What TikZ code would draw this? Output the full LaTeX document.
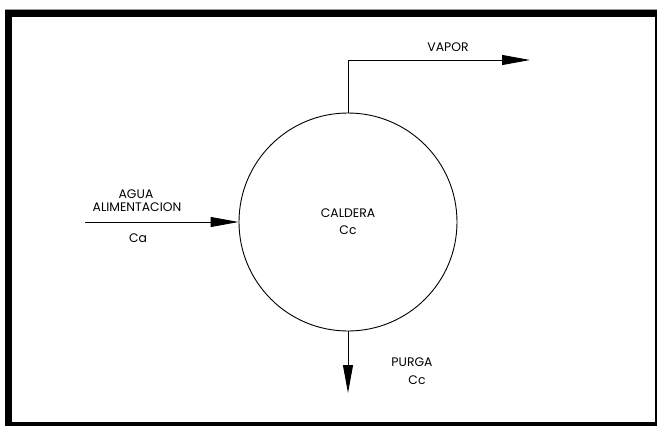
\documentclass[tikz,border=0pt]{standalone}
\usepackage{fontspec}
\setmainfont{Poppins}
\usetikzlibrary{arrows.meta}
\begin{document}
\begin{tikzpicture}[x=1pt,y=-1pt,
  flow/.style={line width=0.9pt,-{Triangle[length=28pt,width=10pt]}},
  lbl/.style={inner sep=0pt,font=\fontsize{12.4}{13}\selectfont,align=center},
  vessel/.style={circle,draw,line width=0.9pt,minimum size=218pt,inner sep=0pt,font=\fontsize{12.4}{17}\selectfont,align=center}]
\useasboundingbox (0,0) rectangle (657,426);
\fill[black!40] (5,9) rectangle (657,10);
\fill[black] (5,10) rectangle (657,426);
\fill[white] (12,17) rectangle (655,422);
\node[vessel] (caldera) at (348,222) {CALDERA\\Cc};
\coordinate (vaporend) at (530,60);
\coordinate (feedstart) at (85,222);
\coordinate (purgeend) at (348,393);
\draw[flow] (caldera.north) |- (vaporend);
\draw[flow] (feedstart) -- (caldera.west);
\draw[flow] (caldera.south) -- (purgeend);
\node[lbl] (vapor) at (448,47) {VAPOR};
\node[lbl] (agua) at (136,194) {AGUA};
\node[lbl] (alim) at (137,207) {ALIMENTACION};
\node[lbl] (ca) at (138,238) {Ca};
\node[lbl] (purga) at (412,362) {PURGA};
\node[lbl] (purgacc) at (417,380) {Cc};
\end{tikzpicture}
\end{document}
